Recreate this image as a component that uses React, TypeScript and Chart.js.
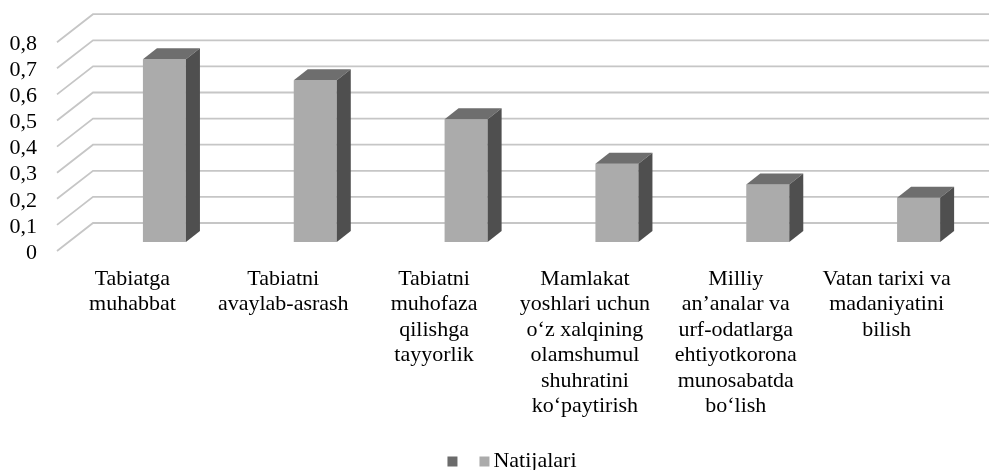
import { useEffect, useRef } from "react";
import { Chart, registerables } from "chart.js";

Chart.register(...registerables);

// ---- Data ----
const categories: string[][] = [
  ["Tabiatga", "muhabbat"],
  ["Tabiatni", "avaylab-asrash"],
  ["Tabiatni", "muhofaza", "qilishga", "tayyorlik"],
  ["Mamlakat", "yoshlari uchun", "o‘z xalqining", "olamshumul", "shuhratini", "ko‘paytirish"],
  ["Milliy", "an’analar va", "urf-odatlarga", "ehtiyotkorona", "munosabatda", "bo‘lish"],
  ["Vatan tarixi va", "madaniyatini", "bilish"],
];
const seriesLabels: string[] = ["", "Natijalari"];
const emptySeries: (number | null)[] = [null, null, null, null, null, null];
const natijalari: number[] = [0.7, 0.62, 0.47, 0.3, 0.22, 0.17];
const yTickLabels: string[] = ["0", "0,1", "0,2", "0,3", "0,4", "0,5", "0,6", "0,7", "0,8"];

// ---- Styles ----
const FONT = "'Liberation Serif', 'Times New Roman', serif";
const FONT_SIZE = 22;
const FRONT_COLOR = "#ababab";
const TOP_COLOR = "#6e6e6e";
const SIDE_COLOR = "#4f4f4f";
const LEGEND_DARK = "#6b6b6b";
const GRID_COLOR = "#c6c6c6";
const DEPTH_DX = 14;
const DEPTH_DY = 11;
const FRONT_DY = 9;
const WALL_DX = 36;
const WALL_DY = 19;
const W = 989;
const H = 470;

const gridPlugin = {
  id: "grid3d",
  beforeDatasetsDraw(chart: any) {
    const ctx = chart.ctx;
    const ys = chart.scales.y;
    const area = chart.chartArea;
    ctx.save();
    ctx.strokeStyle = GRID_COLOR;
    ctx.lineWidth = 1.8;
    ys.ticks.forEach((t: any) => {
      const py = ys.getPixelForValue(t.value);
      ctx.beginPath();
      ctx.moveTo(area.left, py + FRONT_DY);
      ctx.lineTo(area.left + WALL_DX, py - WALL_DY);
      ctx.lineTo(chart.width, py - WALL_DY);
      ctx.stroke();
    });
    ctx.restore();
  },
};

const bar3dPlugin = {
  id: "bar3d",
  afterDatasetsDraw(chart: any) {
    const ctx = chart.ctx;
    ctx.save();
    chart.data.datasets.forEach((_ds: any, di: number) => {
      const meta = chart.getDatasetMeta(di);
      meta.data.forEach((bar: any, i: number) => {
        const v = chart.data.datasets[di].data[i];
        if (v === null || v === undefined) return;
        const { x, y, base, width } = bar.getProps(["x", "y", "base", "width"], true);
        const l = x - width / 2;
        const r = x + width / 2;
        // top face
        ctx.fillStyle = TOP_COLOR;
        ctx.beginPath();
        ctx.moveTo(l, y);
        ctx.lineTo(l + DEPTH_DX, y - DEPTH_DY);
        ctx.lineTo(r + DEPTH_DX, y - DEPTH_DY);
        ctx.lineTo(r, y);
        ctx.closePath();
        ctx.fill();
        // side face
        ctx.fillStyle = SIDE_COLOR;
        ctx.beginPath();
        ctx.moveTo(r, y);
        ctx.lineTo(r + DEPTH_DX, y - DEPTH_DY);
        ctx.lineTo(r + DEPTH_DX, base - DEPTH_DY);
        ctx.lineTo(r, base);
        ctx.closePath();
        ctx.fill();
      });
    });
    ctx.restore();
  },
};

const legendPlugin = {
  id: "legendCustom",
  afterDraw(chart: any) {
    const ctx = chart.ctx;
    ctx.save();
    ctx.font = `${FONT_SIZE}px ${FONT}`;
    ctx.textBaseline = "middle";
    ctx.textAlign = "left";
    const box = 10;
    const gap = 22;
    const textGap = 4;
    const items = chart.data.datasets.map((ds: any) => ({
      label: ds.label as string,
      color: ds.legendColor as string,
      tw: ds.label ? ctx.measureText(ds.label).width : 0,
    }));
    let total = 0;
    items.forEach((it: any, i: number) => {
      total += box + (it.label ? textGap + it.tw : 0) + (i < items.length - 1 ? gap : 0);
    });
    const cy = 461.5;
    let x = 512 - total / 2;
    items.forEach((it: any) => {
      ctx.fillStyle = it.color;
      ctx.fillRect(x, cy - box / 2, box, box);
      x += box;
      if (it.label) {
        x += textGap;
        ctx.fillStyle = "#000";
        ctx.fillText(it.label, x, cy);
        x += it.tw;
      }
      x += gap;
    });
    ctx.restore();
  },
};

export default function App() {
  const ref = useRef<HTMLCanvasElement | null>(null);

  useEffect(() => {
    if (!ref.current) return;
    const chart = new Chart(ref.current, {
      type: "bar",
      data: {
        labels: categories,
        datasets: [
          {
            label: seriesLabels[0],
            data: emptySeries,
            backgroundColor: LEGEND_DARK,
            legendColor: LEGEND_DARK,
            categoryPercentage: 0.849,
            barPercentage: 0.672,
          } as any,
          {
            label: seriesLabels[1],
            data: natijalari,
            backgroundColor: FRONT_COLOR,
            legendColor: FRONT_COLOR,
            borderWidth: 0,
            categoryPercentage: 0.849,
            barPercentage: 0.672,
          } as any,
        ],
      },
      options: {
        responsive: false,
        animation: false,
        devicePixelRatio: 1,
        layout: { padding: { top: 31.6, right: 27, bottom: 0, left: 0 } },
        plugins: {
          legend: { display: false },
          tooltip: { enabled: false },
        },
        scales: {
          x: {
            offset: true,
            grid: { display: false, drawTicks: false },
            border: { display: false },
            ticks: {
              autoSkip: false,
              maxRotation: 0,
              minRotation: 0,
              padding: 24,
              color: "#000",
              font: { family: FONT, size: FONT_SIZE, lineHeight: 1.16 },
            },
            afterFit(scale: any) {
              scale.height = H - 242;
            },
          },
          y: {
            min: 0,
            max: 0.8,
            grid: { display: false, drawTicks: false },
            border: { display: false },
            ticks: {
              stepSize: 0.1,
              autoSkip: false,
              padding: 20,
              labelOffset: 11,
              color: "#000",
              font: { family: FONT, size: FONT_SIZE },
              callback: (_v: any, i: number) => yTickLabels[i],
            },
            afterFit(scale: any) {
              scale.width = 57;
            },
          },
        },
      },
      plugins: [gridPlugin, bar3dPlugin, legendPlugin],
    });
    return () => chart.destroy();
  }, []);

  return (
    <div style={{ position: "absolute", left: 0, top: 0, width: W, height: H, background: "#fff" }}>
      <canvas ref={ref} width={W} height={H} />
    </div>
  );
}
